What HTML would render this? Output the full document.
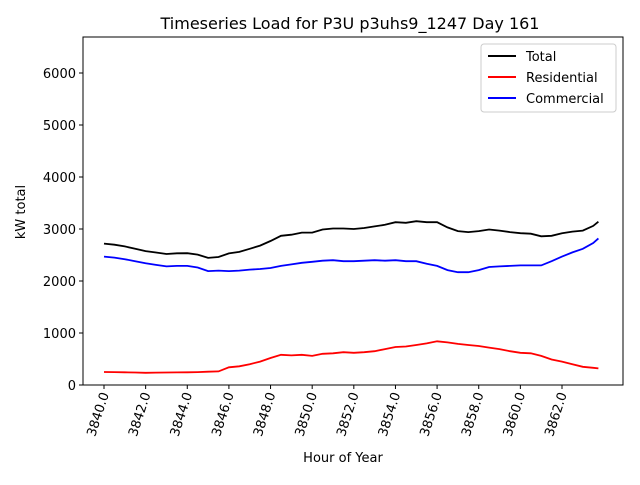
<!DOCTYPE html>
<html><head><meta charset="utf-8"><style>
body{margin:0;background:#fff;font-family:"Liberation Sans","DejaVu Sans",sans-serif}
svg text{font-family:"DejaVu Sans","Liberation Sans",sans-serif}
</style></head><body>
<svg id="chart" width="640" height="480" xmlns="http://www.w3.org/2000/svg">
<rect width="640" height="480" fill="#fff"/>
<text x="350" y="29" text-anchor="middle" font-size="16">Timeseries Load for P3U p3uhs9_1247  Day 161</text>
<text x="343" y="462" text-anchor="middle" font-size="13">Hour of Year</text>
<text transform="translate(25,212) rotate(-90)" text-anchor="middle" font-size="13">kW total</text>
<g id="grid"></g>
<g id="series"></g>
<rect x="83" y="37" width="540" height="348" fill="none" stroke="#000" stroke-width="1"/>
<g>
<rect x="481" y="44" width="135" height="68" fill="#fff" stroke="#ccc" rx="3"/>
<g><line x1="488" y1="56" x2="516" y2="56" stroke="#000" stroke-width="2"/><text x="526" y="61" font-size="13">Total</text></g>
<g><line x1="488" y1="77" x2="516" y2="77" stroke="red" stroke-width="2"/><text x="526" y="82" font-size="13">Residential</text></g>
<g><line x1="488" y1="98" x2="516" y2="98" stroke="blue" stroke-width="2"/><text x="526" y="103" font-size="13">Commercial</text></g>
</g>
</svg>
<script>
const hours=[];for(let i=0;i<48;i++)hours.push(3840+i*0.5);hours.push(3863.75);
const residential=[250,248,245,240,235,238,240,242,245,248,255,262,340,360,400,450,520,580,570,580,560,600,610,630,620,630,650,690,730,740,770,800,840,820,790,770,750,720,690,650,620,610,560,490,450,400,350,330,320];
const commercial=[2470,2450,2420,2380,2340,2310,2280,2290,2290,2260,2190,2200,2190,2200,2220,2230,2250,2290,2320,2350,2370,2390,2400,2380,2380,2390,2400,2390,2400,2380,2380,2330,2290,2210,2170,2170,2210,2270,2280,2290,2300,2300,2300,2380,2470,2550,2620,2730,2820];
const total=residential.map((r,i)=>r+commercial[i]);
const yTicks=[0,1000,2000,3000,4000,5000,6000];
const xTicks=[3840,3842,3844,3846,3848,3850,3852,3854,3856,3858,3860,3862];
const NS="http://www.w3.org/2000/svg";
const xs=h=>104+(h-3840)*20.818;
const ys=v=>385-v*0.052;
const grid=document.getElementById('grid'),ser=document.getElementById('series');
yTicks.forEach(v=>{
 const l=document.createElementNS(NS,'line');l.setAttribute('x1',79);l.setAttribute('x2',83);l.setAttribute('y1',ys(v));l.setAttribute('y2',ys(v));l.setAttribute('stroke','#000');
 
 
 grid.appendChild(l);
 const t=document.createElementNS(NS,'text');t.setAttribute('x',76);t.setAttribute('y',ys(v)+5);t.setAttribute('text-anchor','end');t.setAttribute('font-size','13');t.textContent=v;
 
 
 grid.appendChild(t);
});
xTicks.forEach(v=>{
 const x=xs(v);
 const l=document.createElementNS(NS,'line');l.setAttribute('x1',x);l.setAttribute('x2',x);l.setAttribute('y1',385);l.setAttribute('y2',389);l.setAttribute('stroke','#000');
 
 
 grid.appendChild(l);
 const t=document.createElementNS(NS,'text');t.setAttribute('font-size','13');t.setAttribute('text-anchor','end');
 t.setAttribute('transform','translate('+(x+5)+',394) rotate(-72)');t.textContent=v.toFixed(1);
 
 
 grid.appendChild(t);
});
function line(arr,color,name){
 const p=document.createElementNS(NS,'polyline');
 p.setAttribute('points',arr.map((v,i)=>xs(hours[i]).toFixed(1)+','+ys(v).toFixed(1)).join(' '));
 p.setAttribute('fill','none');p.setAttribute('stroke',color);p.setAttribute('stroke-width','1.8');
 
 
 ser.appendChild(p);
}
line(total,'#000','total-line');line(residential,'red','residential-line');line(commercial,'blue','commercial-line');
</script>
</body></html>
